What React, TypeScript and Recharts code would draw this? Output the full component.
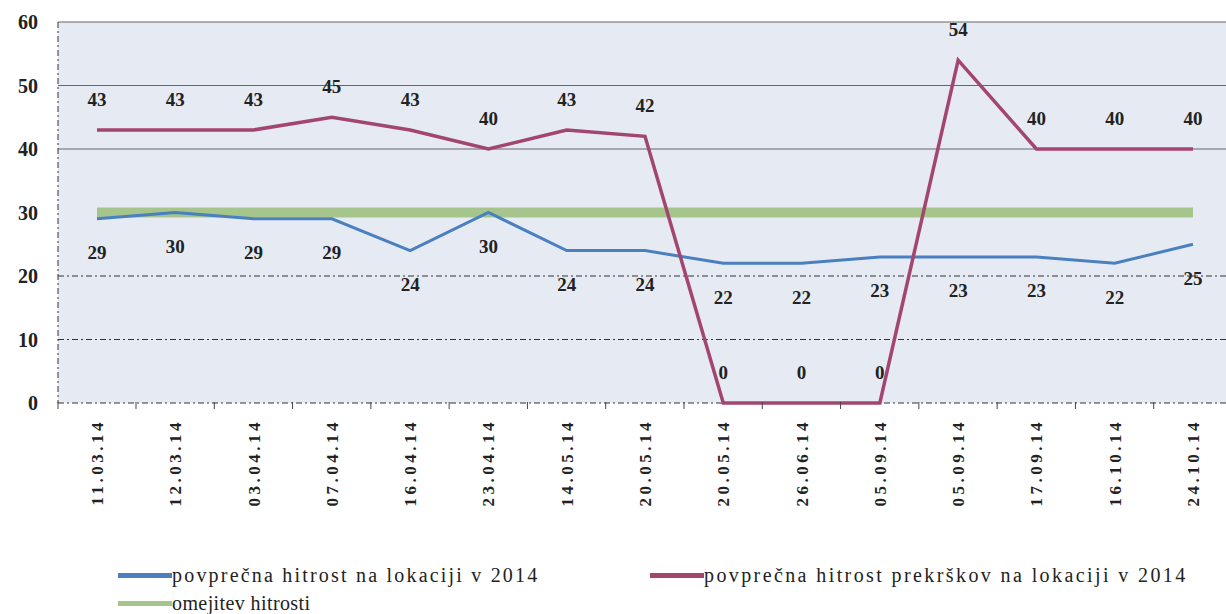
import { LineChart, Line, XAxis, YAxis, CartesianGrid, ReferenceLine, LabelList } from "recharts";

const dates = [
  "11.03.14", "12.03.14", "03.04.14", "07.04.14", "16.04.14", "23.04.14", "14.05.14", "20.05.14",
  "20.05.14", "26.06.14", "05.09.14", "05.09.14", "17.09.14", "16.10.14", "24.10.14",
];
const avgSpeed = [29, 30, 29, 29, 24, 30, 24, 24, 22, 22, 23, 23, 23, 22, 25];
const offenceSpeed = [43, 43, 43, 45, 43, 40, 43, 42, 0, 0, 0, 54, 40, 40, 40];
const speedLimit = [30, 30, 30, 30, 30, 30, 30, 30, 30, 30, 30, 30, 30, 30, 30];
const yTicks = [0, 10, 20, 30, 40, 50, 60];
const solidGrid = [40, 50, 60];
const dashedGrid = [0, 10, 20];

const data = dates.map((d, i) => ({
  idx: i,
  date: d,
  avg: avgSpeed[i],
  offence: offenceSpeed[i],
  limit: speedLimit[i],
}));

const serif = "'Liberation Serif', 'Times New Roman', serif";

const BLUE = "#4a80c0";
const RED = "#a3466f";
const GREEN = "#a5c58c";
const HALF = 39;

function DateTick(props: any) {
  const { x, y, payload, index } = props;
  return (
    <g>
      <line x1={x + HALF} y1={y - 9} x2={x + HALF} y2={y - 2} stroke="#444" />
      {index === 0 && <line x1={x - HALF} y1={y - 9} x2={x - HALF} y2={y - 2} stroke="#444" />}
      <text
        transform={`translate(${x},${y + 8}) rotate(-90)`}
        textAnchor="end"
        dy="0.35em"
        fontFamily={serif}
        fontWeight="bold"
        fontSize={17}
        letterSpacing={3.5}
        fill="#222"
      >
        {dates[payload.value]}
      </text>
    </g>
  );
}

function LegendItem({ color, label, left, top, spacing }: { color: string; label: string; left: number; top: number; spacing: number }) {
  return (
    <div style={{ position: "absolute", left, top, display: "flex", alignItems: "center" }}>
      <div style={{ width: 54, height: 5, background: color }} />
      <span style={{ fontFamily: serif, fontSize: 20, color: "#222", letterSpacing: spacing, whiteSpace: "nowrap" }}>
        {label}
      </span>
    </div>
  );
}

export default function App() {
  return (
    <div style={{ position: "absolute", left: 0, top: 0, width: 1226, height: 614, overflow: "hidden", background: "#fff" }}>
      <LineChart width={1232} height={614} data={data} margin={{ top: 22, right: 0, bottom: 0, left: 0 }}>
        <CartesianGrid horizontal={false} vertical={false} fill="#e6ebf3" stroke="none" />
        {solidGrid.map((v) => (
          <ReferenceLine key={`s${v}`} y={v} stroke="#666" strokeWidth={1} />
        ))}
        {dashedGrid.map((v) => (
          <ReferenceLine key={`d${v}`} y={v} stroke="#333" strokeDasharray="6 3 2 3" strokeWidth={1} />
        ))}
        <XAxis
          dataKey="idx"
          type="category"
          axisLine={false}
          tickLine={false}
          height={211}
          interval={0}
          padding={{ left: HALF, right: HALF }}
          tick={<DateTick />}
        />
        <YAxis
          domain={[0, 60]}
          ticks={yTicks}
          width={58}
          axisLine={{ stroke: "#333", strokeDasharray: "6 3 2 3" }}
          tickLine={false}
          tickSize={0}
          tickMargin={20}
          tick={{ fontFamily: serif, fontWeight: "bold", fontSize: 20, fill: "#222" }}
        />
        <Line dataKey="limit" stroke={GREEN} strokeWidth={10} dot={false} isAnimationActive={false} />
        <Line dataKey="avg" stroke={BLUE} strokeWidth={3} dot={false} isAnimationActive={false}>
          <LabelList
            dataKey="avg"
            position="bottom"
            offset={27}
            style={{ fontFamily: serif, fontWeight: "bold", fontSize: 19, fill: "#222" }}
          />
        </Line>
        <Line dataKey="offence" stroke={RED} strokeWidth={3.5} dot={false} isAnimationActive={false}>
          <LabelList
            dataKey="offence"
            position="top"
            offset={24}
            style={{ fontFamily: serif, fontWeight: "bold", fontSize: 19, fill: "#222" }}
          />
        </Line>
      </LineChart>
      <LegendItem color={BLUE} label="povprečna hitrost na lokaciji v 2014" left={118} top={564} spacing={2.2} />
      <LegendItem color={RED} label="povprečna hitrost prekrškov na lokaciji v 2014" left={650} top={564} spacing={2.4} />
      <LegendItem color={GREEN} label="omejitev hitrosti" left={118} top={592} spacing={0.4} />
    </div>
  );
}
